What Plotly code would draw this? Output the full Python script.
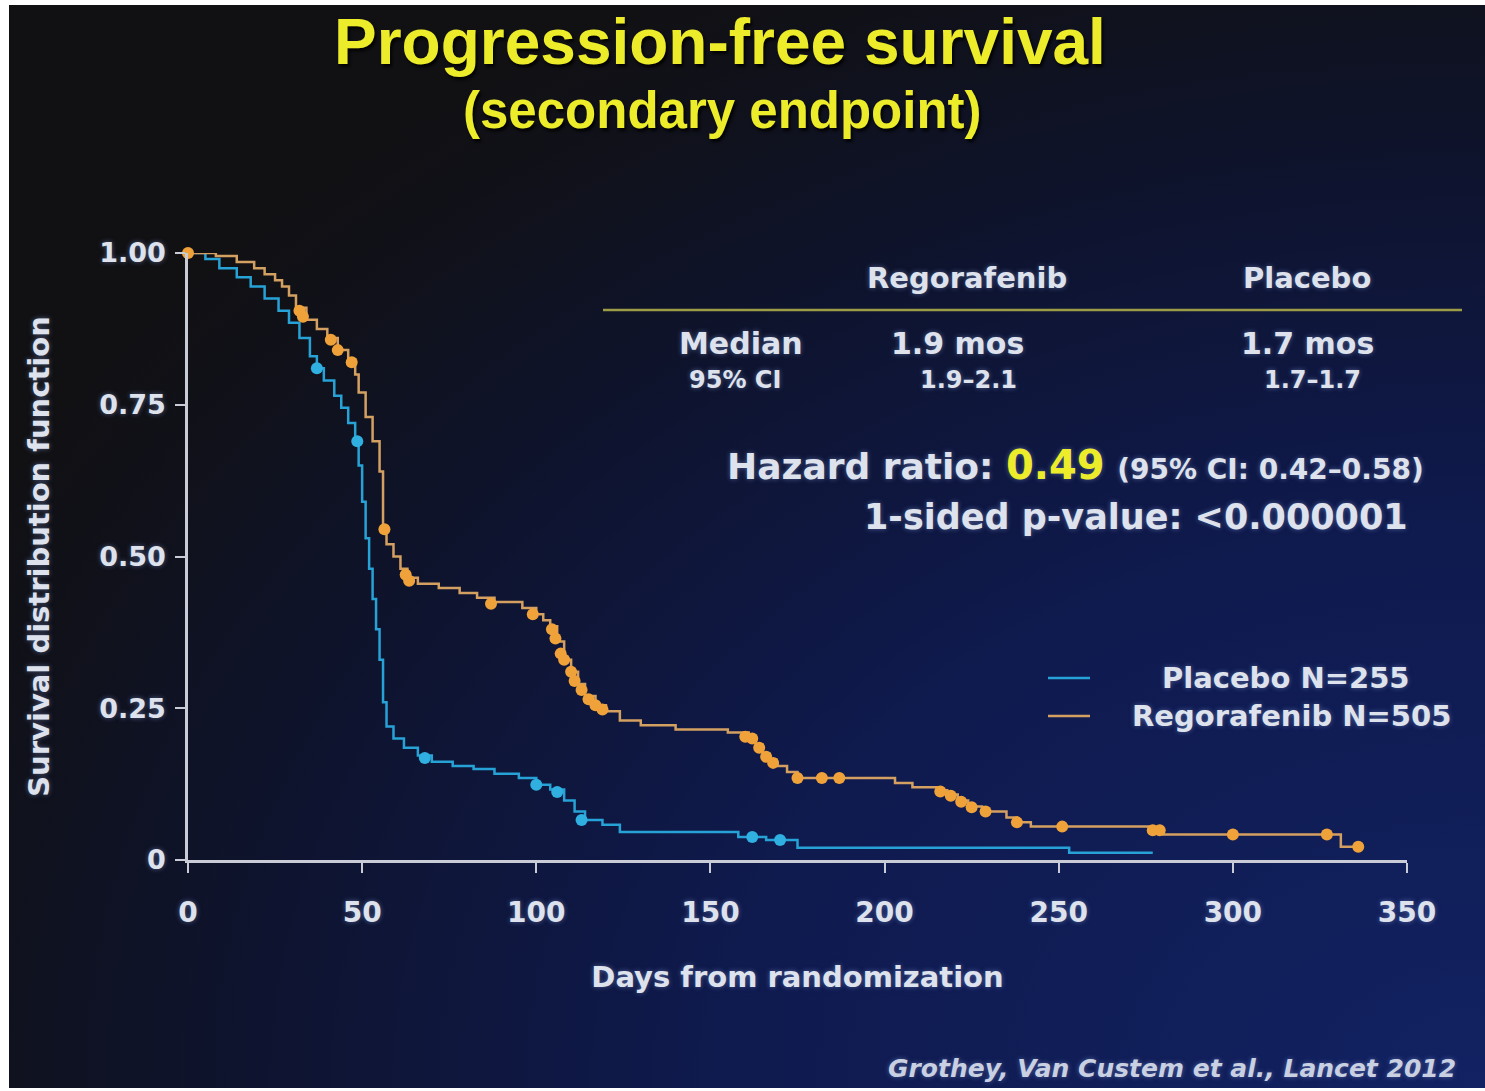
import base64
import plotly.graph_objects as go

# ---------------- data ----------------
placebo_days = [0, 5, 9, 14, 18, 22, 26, 29, 32, 35, 37, 39, 42, 44, 46, 48, 49, 50, 51, 52, 53, 54, 55, 56,
                57, 59, 62, 66, 70, 76, 82, 88, 95, 100, 104, 108, 111, 114, 119, 124, 158, 166, 175, 253, 277]
placebo_surv = [1.0, 0.99, 0.975, 0.96, 0.945, 0.925, 0.905, 0.885, 0.86, 0.83, 0.81, 0.79, 0.765, 0.745, 0.72,
                0.69, 0.65, 0.59, 0.53, 0.48, 0.43, 0.38, 0.33, 0.26, 0.22, 0.2, 0.185, 0.172, 0.162, 0.155, 0.15,
                0.142, 0.135, 0.124, 0.116, 0.098, 0.08, 0.066, 0.058, 0.046, 0.038, 0.033, 0.02, 0.012, 0.012]
placebo_cens_days = [37, 48.6, 68, 100, 106, 113, 162, 170]
placebo_cens_surv = [0.81, 0.69, 0.168, 0.124, 0.112, 0.066, 0.038, 0.033]

rego_days = [0, 8, 14, 19, 22, 25, 27, 29, 31, 34, 37, 40, 43, 46, 48, 49, 51, 53, 55, 56, 57, 59, 61, 63, 66,
             72, 78, 83, 88, 96, 100, 102, 104, 106, 108, 110, 112, 114, 117, 120, 124, 130, 140, 155, 161, 163,
             165, 167, 169, 172, 175, 203, 208, 215, 218, 221, 224, 228, 235, 238, 242, 276, 280, 331, 336]
rego_surv = [1.0, 0.995, 0.985, 0.975, 0.965, 0.955, 0.945, 0.93, 0.91, 0.89, 0.875, 0.86, 0.84, 0.825, 0.8,
             0.77, 0.73, 0.69, 0.64, 0.55, 0.52, 0.5, 0.48, 0.465, 0.455, 0.448, 0.44, 0.432, 0.425, 0.415,
             0.405, 0.395, 0.385, 0.36, 0.33, 0.31, 0.29, 0.27, 0.255, 0.245, 0.23, 0.222, 0.215, 0.21, 0.2,
             0.19, 0.175, 0.165, 0.155, 0.145, 0.135, 0.127, 0.12, 0.115, 0.108, 0.098, 0.088, 0.08, 0.07,
             0.062, 0.055, 0.049, 0.042, 0.022, 0.022]
rego_cens_days = [0, 32, 33, 41, 43, 47, 56.4, 62.5, 63.5, 87, 99, 104.5, 105.5, 107, 108, 110, 111, 113, 115,
                  117, 119, 160, 162, 164, 166, 168, 175, 182, 187, 216, 219, 222, 225, 229, 238, 251, 277, 279,
                  300, 327, 336]
rego_cens_surv = [1.0, 0.905, 0.895, 0.857, 0.84, 0.82, 0.545, 0.47, 0.46, 0.422, 0.405, 0.38, 0.365, 0.34,
                  0.33, 0.31, 0.295, 0.28, 0.265, 0.255, 0.248, 0.203, 0.2, 0.185, 0.17, 0.16, 0.135, 0.135,
                  0.135, 0.113, 0.106, 0.096, 0.087, 0.08, 0.062, 0.055, 0.049, 0.049, 0.042, 0.042, 0.022]

x_ticks = [0, 50, 100, 150, 200, 250, 300, 350]
y_ticks = [0, 0.25, 0.5, 0.75, 1.0]
y_tick_labels = ["0", "0.25", "0.50", "0.75", "1.00"]

series_names = ["Placebo N=255", "Regorafenib N=505"]

# ---------------- styling ----------------
W, H = 1485, 1091
L, R, T, B = 188, 78, 253, 231
PW, PH = W - L - R, H - T - B

def px(x):
    return (x - L) / PW

def py(y):
    return (H - B - y) / PH

BLUE_LINE = "#27a2d6"
BLUE_MARK = "#2fb0e0"
ORANGE_LINE = "#d4a062"
ORANGE_MARK = "#f0a23a"
TXT = "#dde2ec"
YELLOW = "#ecec2a"
GLOW = "0px 0px 5px rgba(130,150,210,0.55)"
DV = "DejaVu Sans"
LS = "Liberation Sans"

svg = """<svg xmlns='http://www.w3.org/2000/svg' width='1476' height='1082' viewBox='0 0 1476 1082' preserveAspectRatio='none'>
<defs><radialGradient id='g' cx='1' cy='1' r='1.15' fx='1' fy='1'>
<stop offset='0' stop-color='#122262'/>
<stop offset='0.45' stop-color='#0f1a4e'/>
<stop offset='0.72' stop-color='#0e1430'/>
<stop offset='0.92' stop-color='#101119'/>
<stop offset='1' stop-color='#111114'/>
</radialGradient></defs>
<rect width='1476' height='1082' fill='url(#g)'/></svg>"""
bg_src = "data:image/svg+xml;base64," + base64.b64encode(svg.encode()).decode()

fig = go.Figure()

fig.add_trace(go.Scatter(x=placebo_days, y=placebo_surv, mode="lines", line_shape="hv",
                         line=dict(color=BLUE_LINE, width=2.5), name=series_names[0], showlegend=False))
fig.add_trace(go.Scatter(x=rego_days, y=rego_surv, mode="lines", line_shape="hv",
                         line=dict(color=ORANGE_LINE, width=2.5), name=series_names[1], showlegend=False))
fig.add_trace(go.Scatter(x=placebo_cens_days, y=placebo_cens_surv, mode="markers",
                         marker=dict(color=BLUE_MARK, size=12), showlegend=False, cliponaxis=False))
fig.add_trace(go.Scatter(x=rego_cens_days, y=rego_cens_surv, mode="markers",
                         marker=dict(color=ORANGE_MARK, size=12), showlegend=False, cliponaxis=False))

fig.update_layout(
    width=W, height=H,
    margin=dict(l=L, r=R, t=T, b=B),
    paper_bgcolor="#ffffff",
    plot_bgcolor="rgba(0,0,0,0)",
    showlegend=False,
    font=dict(family=DV, color=TXT),
    images=[dict(source=bg_src, xref="paper", yref="paper",
                 x=px(9), y=py(5), sizex=px(W) - px(9), sizey=py(5) - py(1088),
                 xanchor="left", yanchor="top", sizing="stretch", layer="below")],
)

fig.update_xaxes(range=[0, 350], tickvals=x_ticks, showgrid=False, zeroline=False,
                 showline=True, linecolor="#c9ccd6", linewidth=2.5,
                 ticks="outside", ticklen=10, tickwidth=2, tickcolor="#c9ccd6",
                 tickfont=dict(family=DV, size=28, color=TXT, weight="bold", shadow=GLOW),
                 ticklabelstandoff=16,
                 title=dict(text="Days from randomization", standoff=39,
                            font=dict(family=DV, size=29, color=TXT, weight="bold", shadow=GLOW)))
fig.update_yaxes(range=[0, 1], tickvals=y_ticks, ticktext=y_tick_labels, showgrid=False, zeroline=False,
                 showline=True, linecolor="#c9ccd6", linewidth=2.5,
                 ticks="outside", ticklen=10, tickwidth=2, tickcolor="#c9ccd6",
                 tickfont=dict(family=DV, size=27, color=TXT, weight="bold", shadow=GLOW),
                 ticklabelstandoff=4,
                 title=dict(text="Survival distribution function", standoff=42,
                            font=dict(family=DV, size=29, color=TXT, weight="bold", shadow=GLOW)))


def ann(text, x, y, size, color=TXT, xanchor="center", family=DV, italic=False, shadow=GLOW):
    fig.add_annotation(text=text, x=px(x), y=py(y), xref="paper", yref="paper",
                       xanchor=xanchor, yanchor="middle", showarrow=False,
                       font=dict(family=family, size=size, color=color, weight="bold",
                                 style="italic" if italic else "normal", shadow=shadow))

# title
ann("Progression-free survival", 720, 42, 64, color=YELLOW, family=LS, shadow="2px 3px 3px rgba(0,0,0,0.8)")
ann("(secondary endpoint)", 722, 110, 51, color=YELLOW, family=LS, shadow="2px 3px 3px rgba(0,0,0,0.8)")

# summary table
ann("Regorafenib", 967, 278, 29)
ann("Placebo", 1307, 278, 29)
fig.add_shape(type="line", xref="paper", yref="paper", x0=px(603), x1=px(1462), y0=py(310), y1=py(310),
              line=dict(color="#9c9c46", width=2.5))
ann("Median", 741, 343, 30)
ann("1.9 mos", 957, 343, 30)
ann("1.7 mos", 1307, 343, 30)
ann("95% CI", 735, 380, 24)
ann("1.9\u20132.1", 968, 380, 24)
ann("1.7\u20131.7", 1312, 380, 24)
hr_text = ("Hazard ratio: <span style='color:" + YELLOW + ";font-size:40px'>0.49</span> "
           "<span style='font-size:28px'>(95% CI: 0.42\u20130.58)</span>")
ann(hr_text, 725, 465, 36, xanchor="left")
ann("1-sided p-value: &lt;0.000001", 862, 517, 35, xanchor="left")

# legend
fig.add_shape(type="line", xref="paper", yref="paper", x0=px(1048), x1=px(1090), y0=py(678), y1=py(678),
              line=dict(color=BLUE_LINE, width=2.5))
fig.add_shape(type="line", xref="paper", yref="paper", x0=px(1048), x1=px(1090), y0=py(716), y1=py(716),
              line=dict(color=ORANGE_LINE, width=2.5))
ann(series_names[0], 1160, 678, 29, xanchor="left")
ann(series_names[1], 1130, 716, 29, xanchor="left")

# citation
ann("Grothey, Van Custem et al., Lancet 2012", 1458, 1068, 25, color="#c8d0e2", xanchor="right", italic=True)

fig.write_html("out.html")
